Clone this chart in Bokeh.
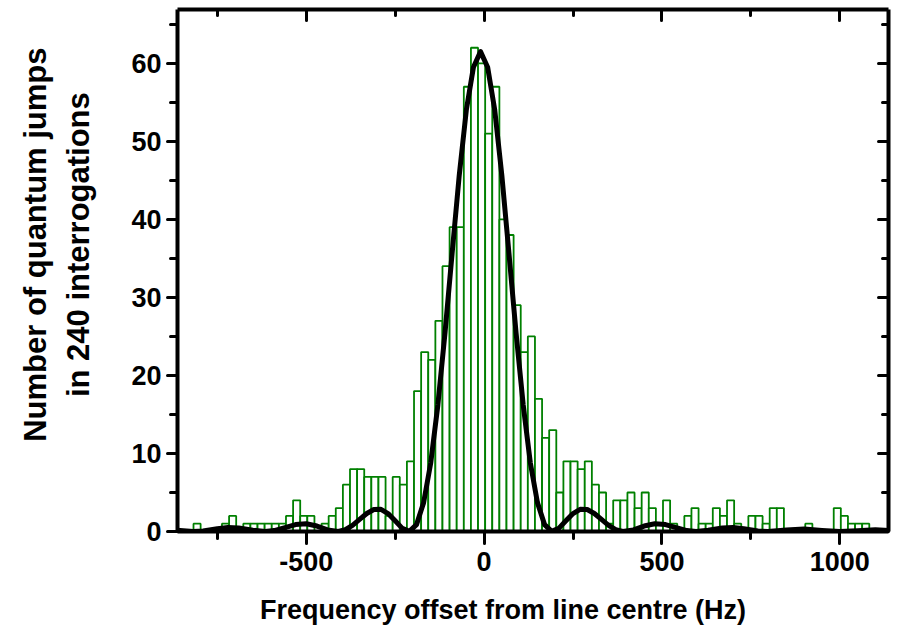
from bokeh.plotting import figure
from bokeh.models import Range1d, LinearAxis, FixedTicker
from bokeh.embed import file_html
from bokeh.resources import INLINE

# ---- data ----
bin_centres = [-807, -787, -767, -747, -727, -707, -687, -667, -647, -627,
               -607, -587, -567, -547, -527, -507, -487, -467, -447, -427,
               -407, -387, -367, -347, -327, -307, -287, -267, -247, -227,
               -207, -187, -167, -147, -127, -107, -87, -67, -47, -27,
               -7, 13, 33, 53, 73, 93, 113, 133, 153, 173,
               193, 213, 233, 253, 273, 293, 313, 333, 353, 373,
               393, 413, 433, 453, 473, 493, 513, 533, 553, 573,
               593, 613, 633, 653, 673, 693, 713, 733, 753, 773,
               793, 813, 833, 853, 873, 893, 913, 933, 953, 973,
               993, 1013, 1033, 1053, 1073]
counts = [1, 0, 0, 0, 1, 2, 0, 1, 1, 1,
          1, 1, 1, 2, 4, 2, 2, 0, 1, 2,
          3, 6, 8, 8, 7, 7, 7, 2, 7, 6,
          9, 18, 23, 22, 27, 34, 39, 39, 57, 62,
          60, 51, 57, 40, 38, 29, 23, 25, 17, 12,
          13, 5, 9, 9, 8, 9, 6, 5, 1, 4,
          4, 5, 3, 5, 3, 1, 4, 1, 0, 2,
          3, 1, 1, 3, 2, 4, 1, 0, 2, 2,
          1, 3, 3, 0, 0, 0, 1, 0, 0, 0,
          3, 2, 1, 1, 1]
bin_width = 20

fit_freq = [-920, -870, -818, -790, -750, -720, -690, -650, -616, -590,
            -560, -530, -500, -470, -440, -410, -390, -370, -350, -330,
            -310, -290, -270, -250, -230, -210, -190, -170, -150, -130,
            -110, -90, -70, -50, -30, -10, 10, 30, 50, 70,
            90, 110, 130, 150, 170, 190, 210, 230, 250, 270,
            290, 310, 330, 350, 370, 390, 420, 450, 480, 510,
            540, 570, 596, 630, 670, 700, 730, 770, 798, 850,
            900, 950, 1000, 1050, 1100, 1140]
fit_jumps = [0.31, 0.18, 0.0, 0.07, 0.35, 0.50, 0.46, 0.16, 0.0, 0.12,
             0.49, 0.89, 1.00, 0.70, 0.21, 0.01, 0.23, 0.79, 1.55, 2.31,
             2.82, 2.84, 2.30, 1.37, 0.40, 0.01, 0.88, 3.7, 8.8, 16.2,
             25.4, 35.6, 45.6, 54.0, 59.5, 61.5, 59.5, 54.0, 45.6, 35.6,
             25.4, 16.2, 8.8, 3.7, 0.88, 0.01, 0.40, 1.37, 2.30, 2.84,
             2.82, 2.31, 1.55, 0.79, 0.23, 0.01, 0.21, 0.70, 1.00, 0.89,
             0.49, 0.12, 0.0, 0.16, 0.46, 0.50, 0.35, 0.07, 0.0, 0.18,
             0.31, 0.14, 0.0, 0.11, 0.21, 0.13]

x_major = [-500, 0, 500, 1000]
x_major_labels = ["-500", "0", "500", "1000"]
x_minor = [-750, -250, 250, 750]
y_major = [0, 10, 20, 30, 40, 50, 60]
y_minor = [5, 15, 25, 35, 45, 55, 65]

x_title = "Frequency offset from line centre (Hz)"
y_title_lines = ["Number of quantum jumps", "in 240 interrogations"]

FONT = "Liberation Sans"
NBSP = "\u00a0"

p = figure(width=893, height=632, output_backend="svg", toolbar_location=None,
           x_range=Range1d(-862, 1137), y_range=Range1d(0, 66.9),
           min_border_left=177, min_border_right=5, min_border_top=9,
           min_border_bottom=101)
p.grid.visible = False
p.outline_line_color = None
p.background_fill_color = "white"
p.border_fill_color = "white"

p.vbar(x=bin_centres, width=bin_width, top=counts, bottom=0,
       fill_color="white", line_color="#008000", line_width=1.8)
p.line(x=fit_freq, y=fit_jumps, line_color="black", line_width=5,
       line_join="round", line_cap="round")


def style(ax, ticks, minor, tick_in, tick_out, minor_in, minor_out, labels=True):
    ax.ticker = FixedTicker(ticks=ticks, minor_ticks=minor)
    ax.axis_line_width = 4
    ax.axis_line_color = "black"
    ax.major_tick_line_width = 3
    ax.major_tick_line_cap = "round"
    ax.minor_tick_line_width = 3
    ax.minor_tick_line_cap = "round"
    ax.major_tick_in = tick_in
    ax.major_tick_out = tick_out
    ax.minor_tick_in = minor_in
    ax.minor_tick_out = minor_out
    if labels:
        ax.major_label_text_font = FONT
        ax.major_label_text_font_style = "bold"
        ax.major_label_text_font_size = "27px"
        ax.major_label_text_color = "black"
        ax.axis_label_text_font = FONT
        ax.axis_label_text_font_style = "bold"
        ax.axis_label_text_color = "black"
    else:
        ax.major_label_text_font_size = "1px"
        ax.major_label_text_color = None
        ax.major_label_standoff = 0


xb = p.xaxis[0]
style(xb, x_major, x_minor, 0, 12, 0, 7)
xb.major_label_standoff = 8
xb.major_label_overrides = {t: s for t, s in zip(x_major, x_major_labels)}
# trailing no-break spaces shift the centred title to the left, as in the picture
xb.axis_label = x_title + NBSP * 8
xb.axis_label_text_font_size = "27px"
xb.axis_label_standoff = 21

yl = p.yaxis[0]
style(yl, y_major, y_minor, 0, 10, 0, 7)
yl.major_label_standoff = 6
# leading no-break spaces shift the centred rotated title upwards
yl.axis_label = "\n".join(NBSP * 6 + s for s in y_title_lines)
yl.axis_label_text_font_size = "31px"
yl.axis_label_text_line_height = 1.25
yl.axis_label_standoff = 32

top_ax = LinearAxis()
style(top_ax, x_major, x_minor, 11, 0, 6, 0, labels=False)
p.add_layout(top_ax, "above")

right_ax = LinearAxis()
style(right_ax, y_major, y_minor, 10, 0, 6, 0, labels=False)
p.add_layout(right_ax, "right")

open("out.html", "w").write(file_html(p, INLINE))
